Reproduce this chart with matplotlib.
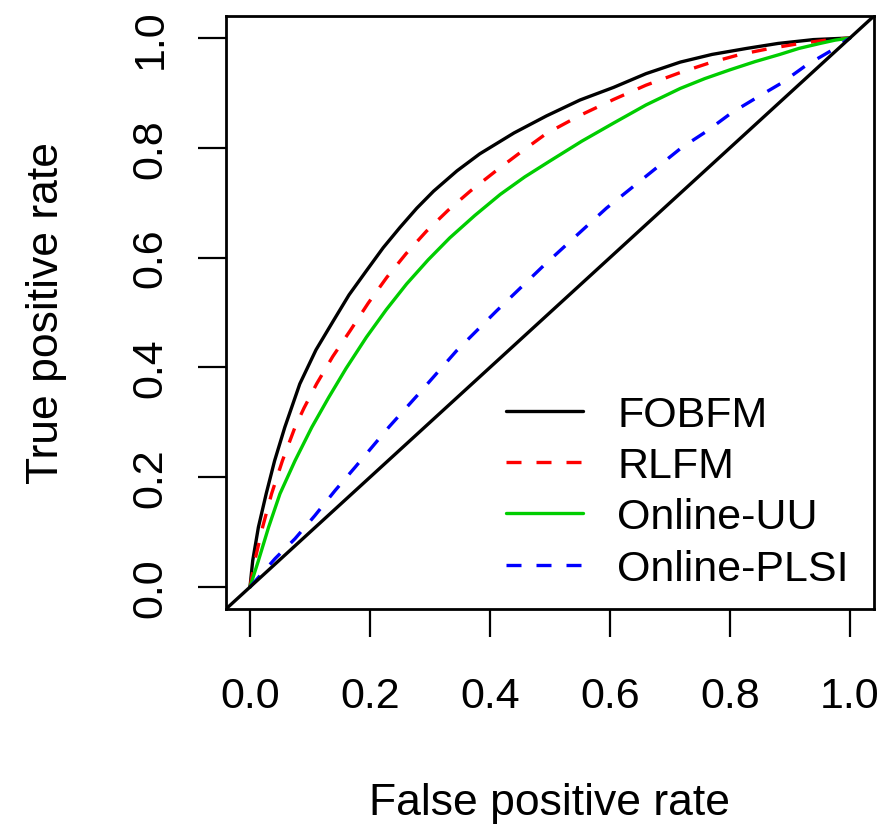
import matplotlib
matplotlib.use("Agg")
import matplotlib.pyplot as plt

plt.rcParams['font.family'] = ['Liberation Sans', 'DejaVu Sans']

# ---- data ----
fobfm_fpr = [0, 0.0045, 0.014, 0.027, 0.041, 0.058, 0.083, 0.11, 0.139, 0.165, 0.194, 0.222, 0.25, 0.278,
             0.306, 0.345, 0.383, 0.44, 0.494, 0.55, 0.606, 0.66, 0.717, 0.77, 0.828, 0.88, 0.939, 1.0]
fobfm_tpr = [0, 0.048, 0.109, 0.170, 0.230, 0.291, 0.370, 0.432, 0.485, 0.532, 0.576, 0.618, 0.655, 0.690,
             0.721, 0.758, 0.789, 0.827, 0.858, 0.887, 0.910, 0.935, 0.956, 0.970, 0.981, 0.990, 0.997, 1.0]

rlfm_fpr = [0, 0.008, 0.021, 0.036, 0.054, 0.075, 0.09, 0.111, 0.138, 0.167, 0.197, 0.228, 0.26, 0.294, 0.33,
            0.367, 0.41, 0.45, 0.494, 0.55, 0.606, 0.66, 0.717, 0.767, 0.817, 0.867, 0.917, 0.96, 1.0]
rlfm_tpr = [0, 0.048, 0.109, 0.170, 0.230, 0.291, 0.326, 0.370, 0.420, 0.467, 0.517, 0.564, 0.607, 0.648, 0.686,
            0.721, 0.758, 0.791, 0.826, 0.859, 0.888, 0.914, 0.937, 0.955, 0.970, 0.981, 0.990, 0.996, 1.0]

uu_fpr = [0, 0.014, 0.031, 0.05, 0.075, 0.103, 0.117, 0.131, 0.16, 0.194, 0.227, 0.261, 0.297, 0.333, 0.375,
          0.417, 0.458, 0.5, 0.553, 0.606, 0.66, 0.717, 0.758, 0.8, 0.842, 0.883, 0.915, 0.95, 0.975, 1.0]
uu_tpr = [0, 0.048, 0.109, 0.170, 0.230, 0.291, 0.318, 0.345, 0.398, 0.455, 0.505, 0.552, 0.596, 0.636, 0.677,
          0.715, 0.747, 0.776, 0.812, 0.845, 0.878, 0.908, 0.926, 0.942, 0.957, 0.970, 0.981, 0.990, 0.996, 1.0]

plsi_fpr = [0, 0.042, 0.075, 0.108, 0.142, 0.175, 0.232, 0.278, 0.344, 0.411, 0.489, 0.594, 0.719, 0.761,
            0.803, 0.844, 0.886, 0.928, 0.972, 1.0]
plsi_tpr = [0, 0.052, 0.088, 0.130, 0.176, 0.218, 0.292, 0.348, 0.430, 0.503, 0.585, 0.690, 0.800, 0.830,
            0.864, 0.891, 0.918, 0.951, 0.979, 1.0]

series_names = ["FOBFM", "RLFM", "Online-UU", "Online-PLSI"]
tick_values = [0.0, 0.2, 0.4, 0.6, 0.8, 1.0]
tick_labels = ["0.0", "0.2", "0.4", "0.6", "0.8", "1.0"]
diag_point = (0, 0)
diag_slope = 1

# ---- figure ----
W, H = 884, 829
fig = plt.figure(figsize=(W / 100, H / 100), dpi=100)
ax = fig.add_axes([226 / W, 1 - 610 / H, (874 - 226) / W, (610 - 17) / H])

lw = 2.4
dash = (0, (4.5, 4.5))
kw = dict(lw=lw, solid_joinstyle='round', solid_capstyle='round')
ax.plot(fobfm_fpr, fobfm_tpr, color='black', label=series_names[0], **kw)
ax.plot(rlfm_fpr, rlfm_tpr, color='#FF0000', linestyle=dash, label=series_names[1], lw=lw)
ax.plot(uu_fpr, uu_tpr, color='#00CD00', label=series_names[2], **kw)
ax.plot(plsi_fpr, plsi_tpr, color='#0000FF', linestyle=dash, label=series_names[3], lw=lw)
ax.axline(diag_point, slope=diag_slope, color='black', lw=lw)

ax.set_xlim(-0.04, 1.04)
ax.set_ylim(-0.04, 1.04)

ax.set_xticks(tick_values)
ax.set_xticklabels(tick_labels)
ax.set_yticks(tick_values)
ax.set_yticklabels(tick_labels, rotation=90, va='center')

for s in ax.spines.values():
    s.set_linewidth(2.0)
ax.tick_params(axis='both', length=20, width=1.6, labelsize=31)
ax.tick_params(axis='x', pad=28)
ax.tick_params(axis='y', pad=20)

ax.set_xlabel("False positive rate", fontsize=32, va='baseline')
ax.xaxis.set_label_coords(0.5, (610 - 815) / 593)
ax.set_ylabel("True positive rate", fontsize=32, va='baseline', rotation_mode='anchor')
ax.yaxis.set_label_coords((58 - 226) / 648, 0.5)

leg = ax.legend(loc='upper left', bbox_to_anchor=(506 / W, 1 - 396 / H),
                bbox_transform=fig.transFigure, frameon=False, fontsize=31,
                handlelength=1.79, handletextpad=0.79, labelspacing=0.26,
                borderpad=0, borderaxespad=0)

fig.savefig("out.png", dpi=100)
